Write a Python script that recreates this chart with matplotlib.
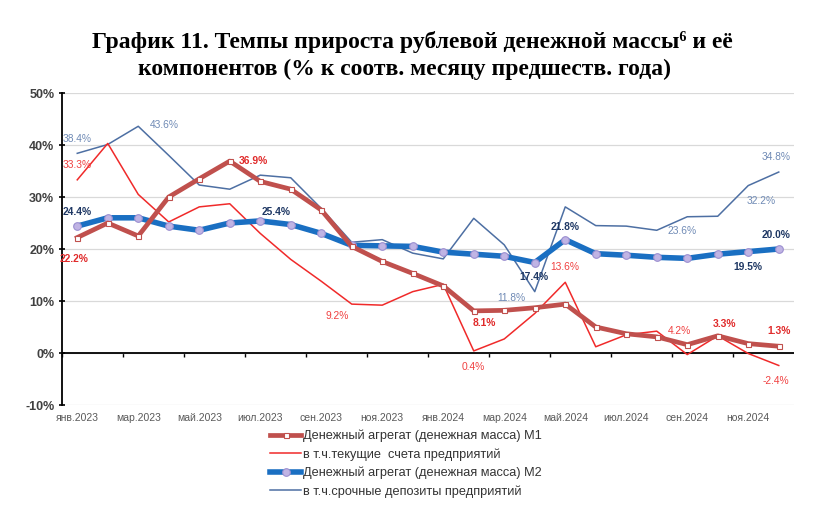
import numpy as np
import matplotlib.pyplot as plt
from matplotlib.lines import Line2D

# monthly data, Jan 2023 - Dec 2024 (% y/y)
months = ['янв.2023', 'фев.2023', 'мар.2023', 'апр.2023', 'май.2023', 'июн.2023',
          'июл.2023', 'авг.2023', 'сен.2023', 'окт.2023', 'ноя.2023', 'дек.2023',
          'янв.2024', 'фев.2024', 'мар.2024', 'апр.2024', 'май.2024', 'июн.2024',
          'июл.2024', 'авг.2024', 'сен.2024', 'окт.2024', 'ноя.2024', 'дек.2024']
m1 = [22.2, 25.0, 22.5, 30.0, 33.5, 36.9, 33.0, 31.5, 27.5, 20.5, 17.6, 15.3,
      12.9, 8.1, 8.2, 8.7, 9.4, 5.0, 3.7, 3.1, 1.6, 3.3, 1.8, 1.3]
current_acc = [33.3, 40.3, 30.5, 25.2, 28.1, 28.7, 23.0, 18.0, 13.8, 9.4, 9.2, 11.8,
               13.2, 0.4, 2.7, 7.6, 13.6, 1.2, 3.5, 4.2, -0.3, 3.3, -0.1, -2.4]
m2 = [24.4, 26.0, 26.0, 24.4, 23.6, 25.0, 25.4, 24.7, 23.0, 20.7, 20.6, 20.5,
      19.4, 19.0, 18.6, 17.4, 21.8, 19.1, 18.8, 18.4, 18.2, 19.0, 19.5, 20.0]
term_dep = [38.4, 40.1, 43.6, 38.0, 32.3, 31.5, 34.2, 33.7, 27.8, 21.3, 21.8, 19.2,
            18.1, 25.9, 20.8, 11.8, 28.1, 24.5, 24.4, 23.6, 26.2, 26.3, 32.2, 34.8]

labels = ['Денежный агрегат (денежная масса) М1',
          'в т.ч.текущие  счета предприятий',
          'Денежный агрегат (денежная масса) М2',
          'в т.ч.срочные депозиты предприятий']

c_m1 = '#c0504d'
c_cur = '#f02a2a'
c_m2 = '#1a6fc2'
c_dep = '#4d6fa3'

plt.rcParams['font.family'] = ['Liberation Sans', 'DejaVu Sans']

fig = plt.figure(figsize=(8.17, 5.19), dpi=100)
ax = fig.add_axes([62 / 817, 1 - 405 / 519, 732 / 817, 312 / 519])

x = np.arange(len(months))

ax.plot(x, term_dep, color=c_dep, lw=1.1, zorder=3)
ax.plot(x, current_acc, color=c_cur, lw=1.1, zorder=3)
ax.plot(x, m2, color=c_m2, lw=4.0, marker='o', ms=5.5, mfc='#c0b4e4',
        mec='#9c8fd0', mew=0.8, zorder=4)
ax.plot(x, m1, color=c_m1, lw=3.4, marker='s', ms=3.6, mfc='white',
        mec=c_m1, mew=0.8, zorder=5)

ax.set_xlim(-0.5, len(months) - 0.5)
ax.set_ylim(-10, 50)
ax.set_yticks(range(-10, 51, 10))
ax.set_yticklabels([f'{v}%' for v in range(-10, 51, 10)])
ax.grid(axis='y', color='#d9d9d9', lw=0.9)
ax.set_axisbelow(True)

for s in ['top', 'right', 'bottom']:
    ax.spines[s].set_visible(False)
ax.spines['left'].set_linewidth(1.3)
ax.tick_params(axis='y', direction='inout', length=5, width=1.2, pad=3,
               labelsize=9, labelcolor='#404040')
for t in ax.get_yticklabels():
    t.set_fontweight('bold')

ax.set_xticks(x[::2])
ax.set_xticklabels(months[::2])
ax.tick_params(axis='x', length=0, pad=6, labelsize=7.5, labelcolor='#595959')

# zero line with category ticks
ax.axhline(0, color='black', lw=1.3, zorder=2)
sec = ax.secondary_xaxis(10 / 60)
sec.spines['bottom'].set_visible(False)
sec.set_xticks(np.arange(-0.5, len(months) - 1, 2))
sec.set_xticklabels([])
sec.tick_params(direction='out', length=3, width=1, color='black')

# data labels: (series, index, dx, dy, bold, colour)
series = {'m1': m1, 'cur': current_acc, 'm2': m2, 'dep': term_dep}
ann = [
    ('dep', 0, 0, 14, False, '#6f8ab5'),
    ('dep', 2, 26, 1, False, '#6f8ab5'),
    ('cur', 0, 0, 15, False, '#f04040'),
    ('m1', 5, 24, 0, True, '#e02a2a'),
    ('m2', 0, 0, 14, True, '#1f3864'),
    ('m2', 6, 16, 9, True, '#1f3864'),
    ('m1', 0, -3, -21, True, '#e02a2a'),
    ('cur', 10, -45, -11, False, '#f04040'),
    ('m1', 13, 11, -12, True, '#e02a2a'),
    ('cur', 13, 0, -16, False, '#f04040'),
    ('dep', 15, -23, -6, False, '#6f8ab5'),
    ('m2', 15, -1, -14, True, '#1f3864'),
    ('m2', 16, 0, 13, True, '#1f3864'),
    ('cur', 16, 0, 15, False, '#f04040'),
    ('dep', 19, 25, -1, False, '#6f8ab5'),
    ('cur', 19, 23, 0, False, '#f04040'),
    ('m1', 21, 7, 12, True, '#e02a2a'),
    ('m1', 23, 0, 15, True, '#e02a2a'),
    ('cur', 23, -3, -16, False, '#f04040'),
    ('m2', 22, 0, -15, True, '#1f3864'),
    ('m2', 23, -3, 14, True, '#1f3864'),
    ('dep', 22, 13, -15, False, '#6f8ab5'),
    ('dep', 23, -3, 15, False, '#6f8ab5'),
]
for key, i, dx, dy, bold, col in ann:
    v = series[key][i]
    ax.annotate(f'{v:.1f}%', xy=(i, v), xytext=(dx, dy), textcoords='offset pixels',
                ha='center', va='center', fontsize=7.4, color=col,
                fontweight='bold' if bold else 'normal', zorder=6)

handles = [
    Line2D([], [], color=c_m1, lw=3.4, marker='s', ms=3.6, mfc='white', mec=c_m1, mew=0.8),
    Line2D([], [], color=c_cur, lw=1.1),
    Line2D([], [], color=c_m2, lw=4.0, marker='o', ms=5.5, mfc='#c0b4e4', mec='#9c8fd0', mew=0.8),
    Line2D([], [], color=c_dep, lw=1.1),
]
fig.legend(handles, labels, loc='upper left', bbox_to_anchor=(270 / 817, 1 - 430 / 519),
           frameon=False, fontsize=9.2, handlelength=2.45, handletextpad=0.12,
           labelspacing=0.46, labelcolor='#333333', borderpad=0, borderaxespad=0)

fig.text(0.505, 1 - 42 / 519, 'График 11. Темпы прироста рублевой денежной массы⁶ и её',
         ha='center', va='center', fontsize=17, fontweight='bold',
         family='Liberation Serif')
fig.text(0.495, 1 - 69 / 519, 'компонентов (% к соотв. месяцу предшеств. года)',
         ha='center', va='center', fontsize=17, fontweight='bold',
         family='Liberation Serif')

fig.savefig('out.png', dpi=100)
